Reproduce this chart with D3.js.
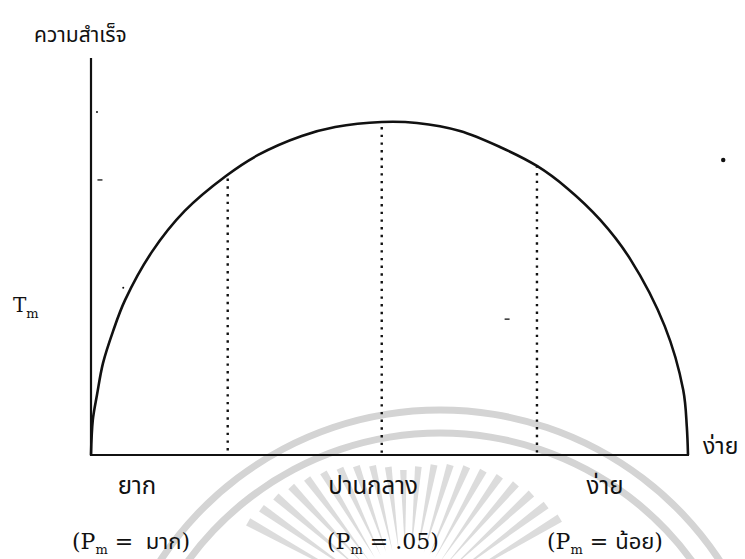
<!DOCTYPE html>
<html>
<head>
<meta charset="utf-8">
<script src="https://cdn.jsdelivr.net/npm/d3@7"></script>
<style>
  body { margin: 0; background: #fff; }
  svg { display: block; }
  .thai { font-family: "Noto Sans Thai", "Noto Serif Thai", "Loma", "Garuda", "Tlwg Typo", sans-serif; fill: #111; }
  .latin { font-family: "DejaVu Serif", "Liberation Serif", serif; fill: #111; }
</style>
</head>
<body>
<div id="chart"></div>
<script>
// curve: difficulty (0 = hard side, 1 = easy side) vs. success
const difficulty = [0, 0.003, 0.010, 0.020, 0.037, 0.057, 0.102, 0.157, 0.226, 0.280, 0.353, 0.409,
                    0.487, 0.546, 0.618, 0.685, 0.747, 0.797, 0.853, 0.903, 0.961, 0.992, 0.998, 1.000];
const success = [0, 0.105, 0.180, 0.275, 0.372, 0.465, 0.610, 0.733, 0.838, 0.901, 0.958, 0.985,
                 1.000, 0.997, 0.973, 0.925, 0.868, 0.802, 0.706, 0.589, 0.387, 0.195, 0.085, 0];

// dotted guides
const guideAt = [0.229, 0.487, 0.747];
const guideTop = [0.83, 0.985, 0.87];

// labels
const levelLabels = ["ยาก", "ปานกลาง", "ง่าย"];
const probLabels = [" มาก", ".05", "น้อย"];
const yTitle = "ความสำเร็จ";
const xEndLabel = "ง่าย";

// scan specks [difficulty, success, kind]
const specks = [[1.059, 0.886, "dot"], [0.697, 0.408, "dash"], [0.015, 0.826, "dash"],
                [0.054, 0.502, "dot"], [0.010, 1.030, "dot"]];

const W = 745, H = 559;
const x = d3.scaleLinear().domain([0, 1]).range([91, 688]);
const y = d3.scaleLinear().domain([0, 1]).range([455, 122]);

const svg = d3.select("#chart").append("svg")
    .attr("width", W)
    .attr("height", H);

// faint watermark behind the figure
const wm = svg.append("g");
const arcGen = d3.arc();
[335, 312].forEach(r => {
    wm.append("path")
        .attr("transform", "translate(440,745)")
        .attr("d", arcGen({ innerRadius: r - 3.5, outerRadius: r + 3.5, startAngle: -1.3, endAngle: 1.3 }))
        .attr("fill", "#d4d4d4");
});
d3.range(-60, 61, 6).forEach(deg => {
    const t = deg * Math.PI / 180;
    const r0 = 60, r1 = 140 + 40 * Math.abs(deg) / 60;
    const cx = 405, cy = 610;
    const w = 0.035;
    const pts = [
        [cx + r0 * Math.sin(t), cy - r0 * Math.cos(t)],
        [cx + r1 * Math.sin(t - w), cy - r1 * Math.cos(t - w)],
        [cx + r1 * Math.sin(t + w / 3), cy - r1 * Math.cos(t + w / 3)]
    ];
    wm.append("path")
        .attr("d", "M" + pts.join("L") + "Z")
        .attr("fill", "#dcdcdc");
});

// axes (plain lines, no ticks)
svg.append("line")
    .attr("x1", x(0)).attr("x2", x(0))
    .attr("y1", y(0) + 1).attr("y2", y(1.192))
    .attr("stroke", "#111").attr("stroke-width", 2.2);
svg.append("line")
    .attr("x1", x(0) - 1).attr("x2", x(1) + 1)
    .attr("y1", y(0)).attr("y2", y(0))
    .attr("stroke", "#111").attr("stroke-width", 2.2);

// dotted guides
svg.selectAll(".guide")
    .data(guideAt)
    .enter()
    .append("line")
    .attr("class", "guide")
    .attr("x1", d => x(d)).attr("x2", d => x(d))
    .attr("y1", (d, i) => y(guideTop[i])).attr("y2", y(0) - 2)
    .attr("stroke", "#111")
    .attr("stroke-width", 2.4)
    .attr("stroke-dasharray", "2.4 5.3");

// the curve
const points = difficulty.map((d, i) => [d, success[i]]);
const line = d3.line()
    .x(d => x(d[0]))
    .y(d => y(d[1]))
    .curve(d3.curveCatmullRom.alpha(0.5));
svg.append("path")
    .datum(points)
    .attr("d", line)
    .attr("fill", "none")
    .attr("stroke", "#111")
    .attr("stroke-width", 2.6);

// specks
specks.forEach(s => {
    if (s[2] === "dot") {
        svg.append("circle").attr("cx", x(s[0])).attr("cy", y(s[1]))
            .attr("r", s[0] > 1 ? 2.2 : 1).attr("fill", "#111");
    } else {
        svg.append("line").attr("x1", x(s[0]) - 2.5).attr("x2", x(s[0]) + 2.5)
            .attr("y1", y(s[1])).attr("y2", y(s[1]))
            .attr("stroke", "#111").attr("stroke-width", 1.3);
    }
});

// texts
svg.append("text").attr("class", "thai")
    .attr("x", 34).attr("y", 42)
    .style("font-size", "21px")
    .text(yTitle);

const tm = svg.append("text").attr("class", "latin")
    .attr("x", 13).attr("y", 312)
    .style("font-size", "20px");
tm.append("tspan").text("T");
tm.append("tspan").attr("dy", 6).style("font-size", "13px").text("m");

svg.append("text").attr("class", "thai")
    .attr("x", 703).attr("y", 454)
    .style("font-size", "23px")
    .text(xEndLabel);

const levelX = [137, 373, 605];
svg.selectAll(".level")
    .data(levelLabels)
    .enter()
    .append("text")
    .attr("class", "level thai")
    .attr("x", (d, i) => levelX[i])
    .attr("y", 494)
    .attr("text-anchor", "middle")
    .style("font-size", "24px")
    .text(d => d);

const probX = [72, 327, 547];
probLabels.forEach((p, i) => {
    const t = svg.append("text")
        .attr("x", probX[i]).attr("y", 549)
        .attr("xml:space", "preserve")
        .style("white-space", "pre")
        .style("font-size", "22px");
    t.append("tspan").attr("class", "latin").text("(P");
    t.append("tspan").attr("class", "latin").attr("dy", 5).style("font-size", "13px").text("m");
    t.append("tspan").attr("class", "latin").attr("dy", -5).text(" = ");
    t.append("tspan").attr("class", p === ".05" ? "latin" : "thai").text(p);
    t.append("tspan").attr("class", "latin").text(")");
});
</script>
</body>
</html>
